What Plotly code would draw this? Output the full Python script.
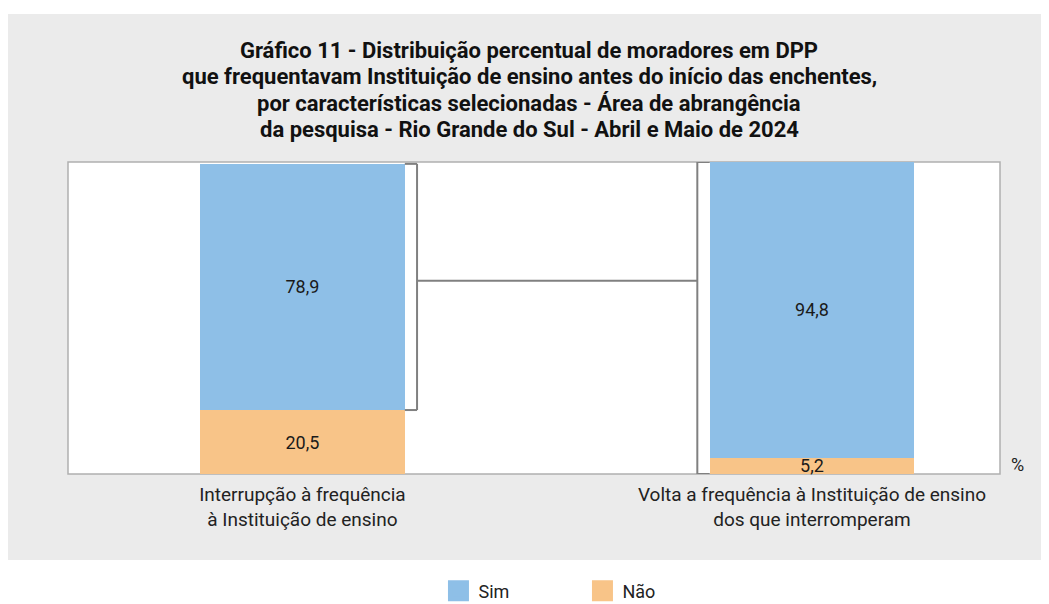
import plotly.graph_objects as go

# ---- data ----
categories = ["Interrupção à frequência<br>à Instituição de ensino",
              "Volta a frequência à Instituição de ensino<br>dos que interromperam"]
sim_values = [78.9, 94.8]
nao_values = [20.5, 5.2]
series_names = ["Sim", "Não"]
title_lines = ["Gráfico 11 - Distribuição percentual de moradores em DPP",
               "que frequentavam Instituição de ensino antes do início das enchentes,",
               "por características selecionadas - Área de abrangência",
               "da pesquisa - Rio Grande do Sul - Abril e Maio de 2024"]

BLUE = "#8EBFE7"
ORANGE = "#F8C488"
GREY_BG = "#EBEBEB"
LINE = "#808080"
FONT = "Roboto, 'Liberation Sans', Arial, sans-serif"
TFONT = dict(size=22, color="#111", family="Roboto, sans-serif", weight="bold")

W, H = 1049, 604
ML, MR, MT, MB = 60, 57, 154, 138
PH = H - MT - MB

xpos = list(range(len(categories)))
bar_w = 0.402

fig = go.Figure()
for vals, name, col in [(nao_values, series_names[1], ORANGE), (sim_values, series_names[0], BLUE)]:
    fig.add_trace(go.Bar(x=xpos, y=vals, name=name, marker=dict(color=col, line=dict(width=0)),
                         width=bar_w, texttemplate="%{y:.1f}", textposition="inside",
                         insidetextanchor="middle", textangle=0, constraintext="none",
                         cliponaxis=False,
                         textfont=dict(size=18, color="#1a1a1a", family=FONT), showlegend=False))

# legend entries (large square swatches)
for name, col in zip(series_names, [BLUE, ORANGE]):
    fig.add_trace(go.Scatter(x=[None], y=[None], mode="markers", name=name,
                             marker=dict(symbol="square", size=16, color=col,
                                         line=dict(color=col, width=5))))

# background panel + white plot area
shapes = [
    dict(type="rect", xref="paper", yref="paper", x0=-0.0676, x1=1.0472, y0=-0.2756, y1=1.474,
         fillcolor=GREY_BG, line=dict(width=0), layer="below"),
    dict(type="rect", xref="paper", yref="paper", x0=0, x1=1, y0=0, y1=1,
         fillcolor="white", line=dict(color="#B0B0B0", width=1.5), layer="below"),
]

# bracket connectors derived from data
half = bar_w / 2
b1_right = xpos[0] + half
b1_br = b1_right + 0.024
b1_top = sim_values[0] + nao_values[0]
b1_low = nao_values[0]
b2_left = xpos[1] - half
b2_br = b2_left - 0.024
b2_top = sim_values[1] + nao_values[1]
mid_y = nao_values[0] + sim_values[0] / 2 + 2
lw = dict(color=LINE, width=2)
shapes += [
    dict(type="line", xref="x", yref="y", x0=b1_right, x1=b1_br, y0=b1_top, y1=b1_top, line=lw),
    dict(type="line", xref="x", yref="y", x0=b1_br, x1=b1_br, y0=b1_top, y1=b1_low, line=lw),
    dict(type="line", xref="x", yref="y", x0=b1_right, x1=b1_br, y0=b1_low, y1=b1_low, line=lw),
    dict(type="line", xref="x", yref="y", x0=b1_br, x1=b2_br, y0=mid_y, y1=mid_y, line=lw),
    dict(type="line", xref="x", yref="y", x0=b2_br, x1=b2_br, y0=0, y1=b2_top, line=lw),
    dict(type="line", xref="x", yref="y", x0=b2_br, x1=b2_left, y0=b2_top, y1=b2_top, line=lw),
    dict(type="line", xref="x", yref="y", x0=b2_br, x1=b2_left, y0=0, y1=0, line=lw),
]

# title lines (tight line spacing like the reference)
title_y_px = [42, 68.5, 95, 121.5]
title_x_px = 521
xc = (title_x_px - ML) / (W - ML - MR)
annotations = []
for line, ypx in zip(title_lines[1:], title_y_px[1:]):
    annotations.append(dict(text=line, xref="paper", yref="paper", x=xc, y=(H - MB - ypx) / PH,
                            xanchor="center", yanchor="middle", showarrow=False, font=TFONT))
annotations.append(dict(text="%", xref="paper", yref="paper", x=1.019, y=0.032, xanchor="center",
                        yanchor="middle", showarrow=False, font=dict(size=18, color="#222", family=FONT)))

fig.update_layout(
    width=W, height=H,
    margin=dict(l=ML, r=MR, t=MT, b=MB, autoexpand=False),
    paper_bgcolor="white", plot_bgcolor="white",
    barmode="stack", separators=",.",
    font=dict(family=FONT, color="#222"),
    title=dict(text=title_lines[0], x=title_x_px / W, xanchor="center", y=1 - title_y_px[0] / H,
               yanchor="middle", font=TFONT),
    xaxis=dict(range=[-0.46, 1.369], tickmode="array", tickvals=xpos, ticktext=categories,
               showgrid=False, zeroline=False, showline=False, ticks="", ticklabelstandoff=7,
               tickfont=dict(size=19, color="#222", family=FONT)),
    yaxis=dict(range=[0, 100], visible=False, showgrid=False, zeroline=False),
    shapes=shapes,
    annotations=annotations,
    legend=dict(orientation="h", x=0.552, xanchor="center", y=-0.375, yanchor="middle",
                font=dict(size=18, color="#222", family=FONT), itemsizing="trace",
                entrywidth=99, entrywidthmode="pixels",
                traceorder="normal", bgcolor="rgba(0,0,0,0)"),
)

fig.write_html("out.html")
